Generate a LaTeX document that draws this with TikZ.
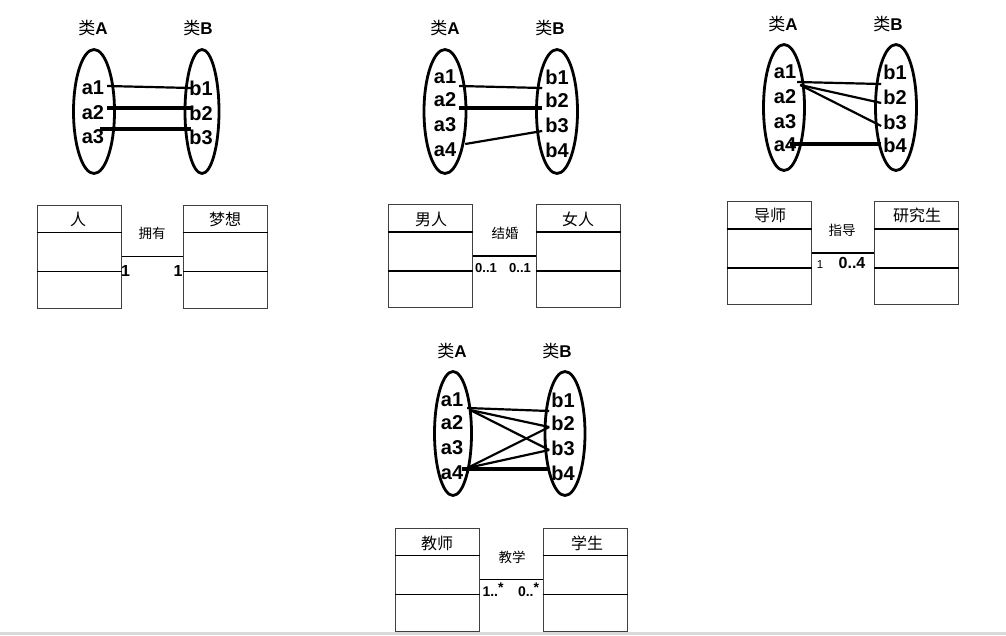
\documentclass[tikz,border=0pt]{standalone}
\usepackage{fontspec}
\setmainfont{Liberation Sans}
\newfontfamily\cjk{Noto Sans CJK SC}
\usetikzlibrary{shapes.geometric}
\tikzset{
  setell/.style={ellipse, draw, line width=2.8pt, inner sep=0pt},
  cls/.style={font=\fontsize{17}{19}\selectfont, inner sep=0pt},
  elem/.style={font=\fontsize{20}{22}\selectfont\bfseries, inner sep=1.5pt},
  conn/.style={line width=2.2pt},
  connb/.style={line width=3.6pt},
  umlbox/.style={draw=black!75, line width=1pt, minimum width=84pt, minimum height=103pt, inner sep=0pt},
  div/.style={line width=1.8pt},
  assoc/.style={line width=1.5pt},
  boxtitle/.style={font=\cjk\fontsize{16}{18}\selectfont, inner sep=0pt},
  asslabel/.style={font=\cjk\fontsize{13.5}{15}\selectfont, inner sep=0pt},
  mult/.style={inner sep=0pt, anchor=base}
}
\newcommand{\clsA}{{\cjk 类}\textbf{A}}
\newcommand{\clsB}{{\cjk 类}\textbf{B}}
\newcommand{\umldivs}[1]{%
  \draw[div] ([yshift=-28pt]#1.north west) -- ([yshift=-28pt]#1.north east);
  \draw[div] ([yshift=-67pt]#1.north west) -- ([yshift=-67pt]#1.north east);}
\begin{document}
\begin{tikzpicture}[x=1pt,y=-1pt]
\useasboundingbox (0,0) rectangle (1006,635);
\fill[black!15] (0,632) rectangle (1006,635);

% ================= Panel 1 =================
\node[cls] (p1ta) at (93,28) {\clsA};
\node[cls] (p1tb) at (198,28) {\clsB};
\node[setell, minimum width=41pt, minimum height=124pt] (p1ea) at (94,111.5) {};
\node[setell, minimum width=34pt, minimum height=124pt] (p1eb) at (202,111.5) {};
\node[elem] (p1a1) at (93,88) {a1};
\node[elem] (p1a2) at (93,113) {a2};
\node[elem] (p1a3) at (93,137) {a3};
\node[elem] (p1b1) at (201,88) {b1};
\node[elem] (p1b2) at (201,113) {b2};
\node[elem] (p1b3) at (201,137) {b3};
\draw[conn] ([xshift=1.4pt,yshift=2pt]p1a1.east) -- ([xshift=3.6pt]p1b1.west);
\draw[connb] ([xshift=1.4pt,yshift=5pt]p1a2.east) -- ([xshift=3.6pt,yshift=5pt]p1b2.west);
\draw[connb] ([xshift=-5.6pt,yshift=8pt]p1a3.east) -- ([xshift=3.6pt,yshift=8pt]p1b3.west);

\node[umlbox] (p1L) at (79,256.5) {};
\node[umlbox] (p1R) at (225.5,256.5) {};
\umldivs{p1L}
\umldivs{p1R}
\node[boxtitle] (p1Lt) at (78,219) {人};
\node[boxtitle] (p1Rt) at (225,219) {梦想};
\draw[assoc] (p1L.east) -- (p1R.west);
\node[asslabel] (p1as) at (152,233) {拥有};
\node[mult, font=\fontsize{16}{18}\selectfont\bfseries] (p1m1) at (125.5,276) {1};
\node[mult, font=\fontsize{16}{18}\selectfont\bfseries] (p1m2) at (178,276) {1};

% ================= Panel 2 =================
\node[cls] (p2ta) at (445,28) {\clsA};
\node[cls] (p2tb) at (550,28) {\clsB};
\node[setell, minimum width=42pt, minimum height=124pt] (p2ea) at (445,111.5) {};
\node[setell, minimum width=41pt, minimum height=124pt] (p2eb) at (557,111.5) {};
\node[elem] (p2a1) at (445,77) {a1};
\node[elem] (p2a2) at (445,100) {a2};
\node[elem] (p2a3) at (445,125) {a3};
\node[elem] (p2a4) at (445,150) {a4};
\node[elem] (p2b1) at (557,77) {b1};
\node[elem] (p2b2) at (557,100) {b2};
\node[elem] (p2b3) at (557,125) {b3};
\node[elem] (p2b4) at (557,150) {b4};
\draw[conn] ([xshift=1.4pt,yshift=-9pt]p2a1.east) -- ([xshift=-1.4pt,yshift=-11pt]p2b1.west);
\draw[connb] ([xshift=1.4pt,yshift=-8pt]p2a2.east) -- ([xshift=-1.4pt,yshift=-8pt]p2b2.west);
\draw[conn] ([xshift=7.4pt,yshift=6pt]p2a4.east) -- ([xshift=-1.4pt,yshift=-6pt]p2b3.west);

\node[umlbox] (p2L) at (430,256) {};
\node[umlbox] (p2R) at (578,256) {};
\umldivs{p2L}
\umldivs{p2R}
\node[boxtitle] (p2Lt) at (431,219) {男人};
\node[boxtitle] (p2Rt) at (578,219) {女人};
\draw[assoc] (p2L.east) -- (p2R.west);
\node[asslabel] (p2as) at (505,233) {结婚};
\node[mult, font=\fontsize{13}{15}\selectfont\bfseries] (p2m1) at (486,272) {0..1};
\node[mult, font=\fontsize{13}{15}\selectfont\bfseries] (p2m2) at (520,272) {0..1};

% ================= Panel 3 =================
\node[cls] (p3ta) at (783,24) {\clsA};
\node[cls] (p3tb) at (888,24) {\clsB};
\node[setell, minimum width=41pt, minimum height=126pt] (p3ea) at (784,107.5) {};
\node[setell, minimum width=41pt, minimum height=126pt] (p3eb) at (896,107.5) {};
\node[elem] (p3a1) at (785,72) {a1};
\node[elem] (p3a2) at (785,97) {a2};
\node[elem] (p3a3) at (785,122) {a3};
\node[elem] (p3a4) at (785,145) {a4};
\node[elem] (p3b1) at (895,72) {b1};
\node[elem] (p3b2) at (895,97) {b2};
\node[elem] (p3b3) at (895,122) {b3};
\node[elem] (p3b4) at (895,145) {b4};
\draw[conn] ([xshift=-0.6pt,yshift=-10pt]p3a1.east) -- ([xshift=-0.4pt,yshift=-12pt]p3b1.west);
\draw[conn] ([xshift=2.4pt,yshift=-13pt]p3a1.east) -- ([xshift=-0.4pt,yshift=-6pt]p3b2.west);
\draw[conn] ([xshift=2.4pt,yshift=-13pt]p3a1.east) -- ([xshift=-0.4pt,yshift=-4pt]p3b3.west);
\draw[connb] ([xshift=-7.6pt,yshift=1pt]p3a4.east) -- ([xshift=-0.4pt,yshift=1pt]p3b4.west);

\node[umlbox] (p3L) at (769,253) {};
\node[umlbox] (p3R) at (916,253) {};
\umldivs{p3L}
\umldivs{p3R}
\node[boxtitle] (p3Lt) at (770,215) {导师};
\node[boxtitle] (p3Rt) at (917,215) {研究生};
\draw[assoc] (p3L.east) -- (p3R.west);
\node[asslabel] (p3as) at (842,230) {指导};
\node[mult, font=\fontsize{11.5}{13}\selectfont] (p3m1) at (820,268.5) {1};
\node[mult, font=\fontsize{16}{18}\selectfont\bfseries] (p3m2) at (852,268.5) {0..4};

% ================= Panel 4 =================
\node[cls] (p4ta) at (452,351) {\clsA};
\node[cls] (p4tb) at (557,351) {\clsB};
\node[setell, minimum width=37pt, minimum height=124pt] (p4ea) at (453,433.5) {};
\node[setell, minimum width=40pt, minimum height=124pt] (p4eb) at (565,433.5) {};
\node[elem] (p4a1) at (452,400) {a1};
\node[elem] (p4a2) at (452,423) {a2};
\node[elem] (p4a3) at (452,448) {a3};
\node[elem] (p4a4) at (452,473) {a4};
\node[elem] (p4b1) at (563,400) {b1};
\node[elem] (p4b2) at (563,423) {b2};
\node[elem] (p4b3) at (563,448) {b3};
\node[elem] (p4b4) at (563,473) {b4};
\draw[conn] ([xshift=2.4pt,yshift=-8pt]p4a1.east) -- ([xshift=-0.4pt,yshift=-11pt]p4b1.west);
\draw[conn] ([xshift=5.4pt,yshift=-10pt]p4a1.east) -- ([xshift=-0.4pt,yshift=-4pt]p4b2.west);
\draw[conn] ([xshift=5.4pt,yshift=-10pt]p4a1.east) -- ([xshift=-0.4pt,yshift=-2pt]p4b3.west);
\draw[conn] ([xshift=2.4pt,yshift=5pt]p4a4.east) -- ([xshift=-0.4pt,yshift=-4pt]p4b2.west);
\draw[conn] ([xshift=2.4pt,yshift=5pt]p4a4.east) -- ([xshift=-0.4pt,yshift=-2pt]p4b3.west);
\draw[connb] ([xshift=-2.6pt,yshift=4pt]p4a4.east) -- ([xshift=-0.4pt,yshift=4pt]p4b4.west);

\node[umlbox] (p4L) at (437.5,579.5) {};
\node[umlbox] (p4R) at (585,579.5) {};
\umldivs{p4L}
\umldivs{p4R}
\node[boxtitle] (p4Lt) at (437,543) {教师};
\node[boxtitle] (p4Rt) at (587,543) {学生};
\draw[assoc] (p4L.east) -- (p4R.west);
\node[asslabel] (p4as) at (512,557) {教学};
\node[mult, font=\fontsize{14}{16}\selectfont\bfseries] (p4m1) at (493,596.5) {1..\raisebox{4.5pt}{*}};
\node[mult, font=\fontsize{14}{16}\selectfont\bfseries] (p4m2) at (528.5,596.5) {0..\raisebox{4.5pt}{*}};
\end{tikzpicture}
\end{document}
